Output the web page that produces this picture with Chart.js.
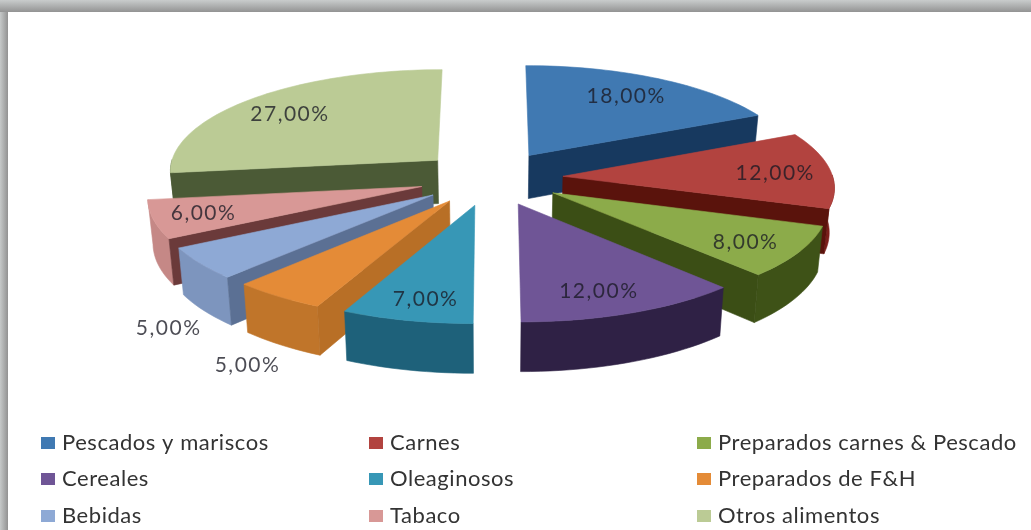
<!DOCTYPE html>
<html>
<head>
<meta charset="utf-8">
<title>Pie 3D</title>
<script src="https://cdn.jsdelivr.net/npm/chart.js@4"></script>
<style>
  html, body { margin: 0; padding: 0; background: #fff; }
  #frame { position: relative; width: 1031px; height: 530px; overflow: hidden; background: #fff; }
  #frame .left { position: absolute; left: 0; top: 0; width: 8px; height: 530px;
    background: linear-gradient(to right, #c6c9c9, #929292); }
  #frame .top { position: absolute; left: 0; top: 0; width: 1031px; height: 12px;
    background: linear-gradient(to bottom, #c9cccc, #939393); }
  canvas { position: absolute; left: 0; top: 0; filter: blur(0.6px); }
</style>
</head>
<body>
<div id="frame">
  <div class="left"></div>
  <div class="top"></div>
  <canvas id="chart" width="1031" height="530"></canvas>
</div>
<script>
var categories = ["Pescados y mariscos", "Carnes", "Preparados carnes & Pescado", "Cereales", "Oleaginosos", "Preparados de F&H", "Bebidas", "Tabaco", "Otros alimentos"];
var shares = [18, 12, 8, 12, 7, 5, 5, 6, 27];
var shareLabels = ["18,00%", "12,00%", "8,00%", "12,00%", "7,00%", "5,00%", "5,00%", "6,00%", "27,00%"];

var topColors = ["#4079b2", "#b2433f", "#8cab4a", "#6f5596", "#3797b6", "#e48b37", "#8ea9d5", "#d89896", "#bbcb95"];
var sideColors = ["#17395f", "#5a130c", "#3b4e15", "#2f2145", "#1f6d87", "#b86f26", "#5b7094", "#6b3a3a", "#4b5a36"];
var rimColors = ["#17395f", "#7c1f1a", "#3e5217", "#2f2145", "#1e617a", "#c0752a", "#7d95be", "#c58886", "#4b5a36"];
var labelShift = [[5, -4], [25, 1], [23, 9], [3, 13], [-3, 16], [-85, 99], [-104, 86], [-32, 4], [-16, -2]];

// ground plane of the pie seen in perspective
var VIEW = { a: 270, b: 102, k: 0.092, depth: 44, shrink: 0.015 };

function project(arc, angle, r, z) {
  var mid = (arc.startAngle + arc.endAngle) / 2;
  var off = arc.options.offset;
  var u = (r * Math.cos(angle) + off * Math.cos(mid)) / arc.outerRadius;
  var v = -(r * Math.sin(angle) + off * Math.sin(mid)) / arc.outerRadius;
  var s = 1 / (1 + VIEW.k * v);
  return [
    arc.x + VIEW.a * u * s * (1 - z * VIEW.shrink),
    arc.y - VIEW.b * v * s + z * VIEW.depth * s
  ];
}

function fillPoly(ctx, pts, color) {
  ctx.beginPath();
  ctx.moveTo(pts[0][0], pts[0][1]);
  for (var i = 1; i < pts.length; i++) {
    ctx.lineTo(pts[i][0], pts[i][1]);
  }
  ctx.closePath();
  ctx.fillStyle = color;
  ctx.strokeStyle = color;
  ctx.lineWidth = 0.6;
  ctx.fill();
  ctx.stroke();
}

function drawSlice(ctx, arc, i) {
  var R = arc.outerRadius;
  var steps = Math.max(4, Math.ceil((arc.endAngle - arc.startAngle) * 30));
  var rim = [];
  for (var n = 0; n <= steps; n++) {
    rim.push(arc.startAngle + (arc.endAngle - arc.startAngle) * n / steps);
  }

  // outer wall, only the part turned to the viewer
  var front = rim.filter(function(a) { return Math.sin(a) > -0.02; });
  if (front.length > 1) {
    var wall = [];
    front.forEach(function(a) { wall.push(project(arc, a, R, 0)); });
    front.slice().reverse().forEach(function(a) { wall.push(project(arc, a, R, 1)); });
    fillPoly(ctx, wall, rimColors[i]);
  }

  // cut faces, skipped when they look away
  [[arc.startAngle, -Math.PI / 2], [arc.endAngle, Math.PI / 2]].forEach(function(edge) {
    if (Math.sin(edge[0] + edge[1]) > 0.02) {
      fillPoly(ctx, [
        project(arc, edge[0], 0, 0), project(arc, edge[0], R, 0),
        project(arc, edge[0], R, 1), project(arc, edge[0], 0, 1)
      ], sideColors[i]);
    }
  });

  var face = [project(arc, arc.startAngle, 0, 0)];
  rim.forEach(function(a) { face.push(project(arc, a, R, 0)); });
  fillPoly(ctx, face, topColors[i]);
}

var pie3d = {
  id: "pie3d",
  beforeDatasetDraw: function(chart) {
    var ctx = chart.ctx;
    var arcs = chart.getDatasetMeta(0).data;
    var order = arcs.map(function(arc, i) { return i; });
    order.sort(function(p, q) {
      return Math.sin((arcs[p].startAngle + arcs[p].endAngle) / 2) - Math.sin((arcs[q].startAngle + arcs[q].endAngle) / 2);
    });
    ctx.save();
    order.forEach(function(i) { drawSlice(ctx, arcs[i], i); });

    // value labels
    ctx.font = "21px Lato";
    ctx.letterSpacing = "1.5px";
    ctx.textAlign = "center";
    ctx.textBaseline = "middle";
    ctx.fillStyle = "rgba(26,26,36,0.78)";
    arcs.forEach(function(arc, i) {
      var mid = (arc.startAngle + arc.endAngle) / 2;
      var p = project(arc, mid, arc.outerRadius * 0.7, 0);
      ctx.fillText(shareLabels[i], p[0] + labelShift[i][0], p[1] + labelShift[i][1]);
    });
    ctx.restore();
    return false;
  },
  afterDraw: function(chart) {
    // three column legend, the built in one only flows in rows
    var ctx = chart.ctx;
    var columns = [41, 369, 697];
    var rows = [443, 479, 516];
    ctx.save();
    ctx.font = "22px Lato";
    ctx.letterSpacing = "0.55px";
    ctx.textAlign = "left";
    ctx.textBaseline = "middle";
    chart.data.labels.forEach(function(label, i) {
      var x = columns[i % 3];
      var y = rows[Math.floor(i / 3)];
      ctx.fillStyle = topColors[i];
      ctx.fillRect(x, y - 6, 14, 12);
      ctx.fillStyle = "#333333";
      ctx.fillText(label, x + 21, y);
    });
    ctx.restore();
  }
};

document.addEventListener("DOMContentLoaded", function() {
  var ctx = document.getElementById("chart").getContext("2d");
  new Chart(ctx, {
    type: "pie",
    data: {
      labels: categories,
      datasets: [{
        data: shares,
        backgroundColor: topColors,
        borderWidth: 0,
        offset: 42
      }]
    },
    options: {
      responsive: false,
      animation: false,
      layout: { padding: { right: 49, bottom: 174 } },
      plugins: { legend: { display: false }, tooltip: { enabled: false } }
    },
    plugins: [pie3d]
  });
});
</script>
</body>
</html>
